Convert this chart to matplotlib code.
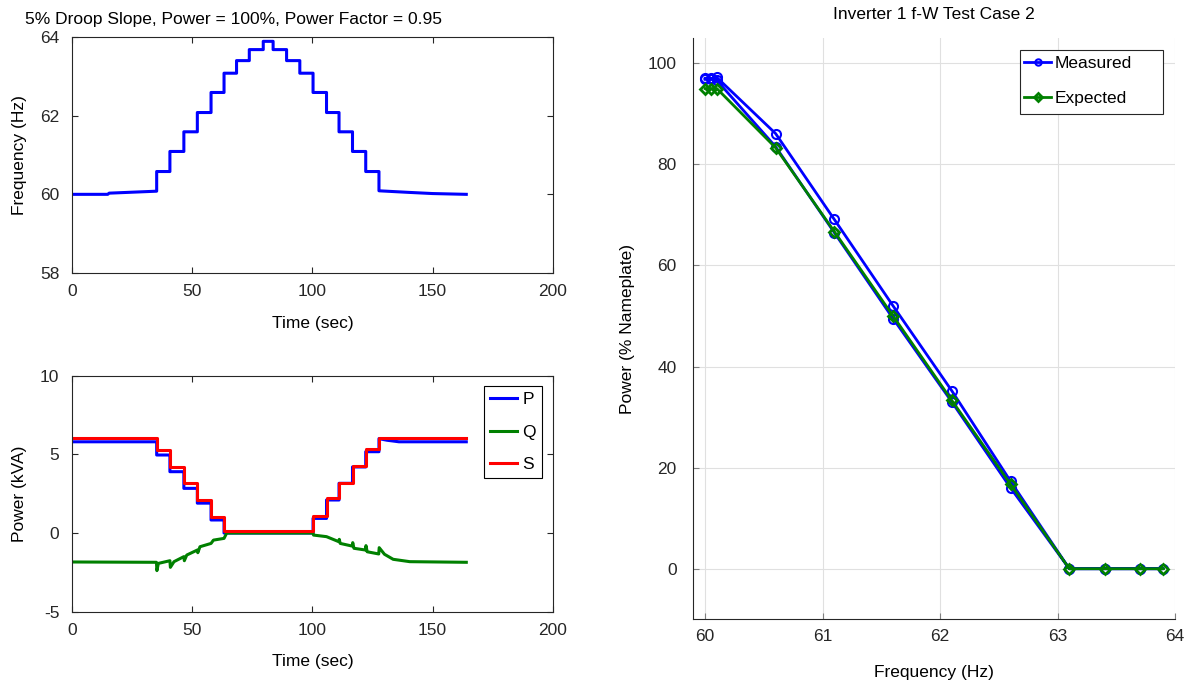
import numpy as np
import matplotlib
matplotlib.use("Agg")
import matplotlib.pyplot as plt
from matplotlib.patches import Rectangle

plt.rcParams['font.family'] = ['Liberation Sans', 'DejaVu Sans']
plt.rcParams['font.size'] = 12.5
plt.rcParams['axes.unicode_minus'] = False

# --- frequency test profile (vertices) ---
freq_t = [0, 15, 15.5, 35.3, 35.3, 40.8, 40.8, 46.6, 46.6, 52.2, 52.2, 57.9, 57.9,
          63.3, 63.3, 68.5, 68.5, 73.8, 73.8, 79.6, 79.6, 83.7, 83.7, 89.3, 89.3,
          94.8, 94.8, 100.3, 100.3, 105.9, 105.9, 111.1, 111.1, 116.7, 116.7,
          122.2, 122.2, 127.7, 127.7, 140, 150, 164]
freq_hz = [60.0, 60.0, 60.03, 60.08, 60.58, 60.58, 61.09, 61.09, 61.59, 61.59, 62.08,
           62.08, 62.59, 62.59, 63.08, 63.08, 63.40, 63.40, 63.68, 63.68, 63.89, 63.89,
           63.68, 63.68, 63.40, 63.40, 63.08, 63.08, 62.59, 62.59, 62.08, 62.08, 61.59,
           61.59, 61.09, 61.09, 60.58, 60.58, 60.09, 60.05, 60.02, 60.0]

# --- power: step times and levels (kVA) ---
pw_t = [0, 35.3, 35.3, 40.8, 40.8, 46.6, 46.6, 52.2, 52.2, 57.9, 57.9, 63.3, 63.3,
        100.3, 100.3, 105.9, 105.9, 111.1, 111.1, 116.7, 116.7, 122.2, 122.2,
        127.7, 127.7, 131, 136, 164]
p_kw = [5.8, 5.8, 4.96, 4.96, 3.9, 3.9, 2.84, 2.84, 1.9, 1.9, 0.83, 0.83, 0.0,
        0.0, 0.93, 0.93, 2.1, 2.1, 3.16, 3.16, 4.2, 4.2, 5.17, 5.17, 6.0, 5.9, 5.8, 5.8]
s_kva = [6.05, 6.05, 5.28, 5.28, 4.22, 4.22, 3.16, 3.16, 2.1, 2.1, 1.04, 1.04, 0.15,
         0.15, 1.08, 1.08, 2.2, 2.2, 3.2, 3.2, 4.26, 4.26, 5.34, 5.34, 6.06, 6.06, 6.06, 6.06]

q_t = [0, 35.2, 35.4, 36.0, 40.8, 41.0, 42.5, 46.6, 46.8, 47.8, 52.2, 52.4, 53.3,
       57.9, 58.9, 63.3, 64.4, 100.3, 100.5, 105.9, 111.0, 111.2, 111.6, 116.6,
       116.8, 117.3, 122.1, 122.3, 122.8, 127.6, 127.8, 130, 133.6, 140.5, 164]
q_kvar = [-1.84, -1.86, -2.39, -1.93, -1.76, -2.18, -1.82, -1.5, -1.76, -1.4, -1.08,
          -1.25, -0.87, -0.66, -0.45, -0.34, 0.0, 0.0, -0.13, -0.23, -0.55, -0.4,
          -0.66, -0.83, -0.61, -0.97, -1.08, -0.8, -1.19, -1.33, -0.93, -1.35, -1.67,
          -1.82, -1.86]

# --- f-W summary points ---
meas_f = [60.0, 60.05, 60.1, 60.6, 61.1, 61.6, 62.1, 62.6, 63.1, 63.4, 63.7, 63.9,
          63.7, 63.4, 63.1, 62.6, 62.1, 61.6, 61.1, 60.6, 60.1, 60.05, 60.0]
meas_p = [97.0, 97.0, 97.2, 86.1, 69.1, 52.0, 35.2, 17.3, 0, 0, 0, 0,
          0, 0, 0, 16.0, 33.0, 49.5, 66.5, 83.5, 96.6, 96.8, 96.8]
exp_f = [60.0, 60.05, 60.1, 60.6, 61.1, 61.6, 62.1, 62.6, 63.1, 63.4, 63.7, 63.9]
exp_p = [95.0, 95.0, 95.0, 83.3, 66.7, 50.0, 33.3, 16.7, 0, 0, 0, 0]

axcol = '#262626'
W, H = 1188, 683

fig = plt.figure(figsize=(11.88, 6.83), dpi=100)

def matlab_box(ax):
    for s in ax.spines.values():
        s.set_color(axcol)
        s.set_linewidth(0.8)
    ax.tick_params(direction='in', top=True, right=True, length=4, colors=axcol,
                   labelcolor=axcol, labelsize=12.5)
    ax.tick_params(axis='x', pad=8)
    ax.tick_params(axis='y', pad=9)

# top-left: frequency
ax1 = fig.add_axes([0.0604, 0.6003, 0.405, 0.3455])
ax1.plot(freq_t, freq_hz, color='#0000ff', lw=2.2)
ax1.set_xlim(0, 200)
ax1.set_ylim(58, 64)
ax1.set_xticks([0, 50, 100, 150, 200])
ax1.set_yticks([58, 60, 62, 64])
matlab_box(ax1)
ax1.set_xlabel('Time (sec)', labelpad=12)
ax1.set_ylabel('Frequency (Hz)', labelpad=9)

# bottom-left: power
ax2 = fig.add_axes([0.0604, 0.1044, 0.405, 0.3455])
ax2.plot(pw_t, p_kw, color='#0000ff', lw=2.2, label='P')
ax2.plot(q_t, q_kvar, color='#008000', lw=2.2, label='Q')
ax2.plot(pw_t, s_kva, color='#ff0000', lw=2.2, label='S')
ax2.set_xlim(0, 200)
ax2.set_ylim(-5, 10)
ax2.set_xticks([0, 50, 100, 150, 200])
ax2.set_yticks([-5, 0, 5, 10])
matlab_box(ax2)
ax2.set_xlabel('Time (sec)', labelpad=12)
ax2.set_ylabel('Power (kVA)', labelpad=9)
leg = ax2.legend(loc='upper right', bbox_to_anchor=(0.977, 0.957), fancybox=False,
                 edgecolor='black', framealpha=1, fontsize=12.5, handlelength=1.55,
                 handletextpad=0.3, labelspacing=1.0, borderpad=0.35,
                 borderaxespad=0)
leg.get_frame().set_linewidth(0.8)

fig.text(0.021, 0.972, '5% Droop Slope, Power = 100%, Power Factor = 0.95',
         ha='left', va='center', fontsize=12.5, color='black')

# right: f-W curve
ax3 = fig.add_axes([0.5836, 0.0933, 0.4055, 0.8511])
ax3.plot(meas_f, meas_p, color='#0000ff', lw=2, marker='o', ms=6.5, mfc='none',
         mew=1.5, label='Measured')
ax3.plot(exp_f, exp_p, color='#008000', lw=2, marker='D', ms=5.5, mfc='none',
         mew=2, label='Expected')
ax3.set_xlim(59.9, 64)
ax3.set_ylim(-10, 105)
ax3.set_xticks([60, 61, 62, 63, 64])
ax3.set_yticks([0, 20, 40, 60, 80, 100])
ax3.grid(True, color='#e0e0e0', lw=0.8)
ax3.set_axisbelow(True)
ax3.spines['top'].set_visible(False)
ax3.spines['right'].set_visible(False)
for s in ['left', 'bottom']:
    ax3.spines[s].set_color(axcol)
    ax3.spines[s].set_linewidth(0.8)
ax3.tick_params(direction='in', length=4, colors='#808080', labelcolor=axcol,
                labelsize=12.5)
ax3.tick_params(axis='x', pad=7)
ax3.tick_params(axis='y', pad=12)
ax3.set_xlabel('Frequency (Hz)', labelpad=15)
ax3.set_ylabel('Power (% Nameplate)', labelpad=9)
ax3.set_title('Inverter 1 f-W Test Case 2', fontsize=12.5, pad=14)

# MATLAB-style legend box: wide frame with the entries packed to the left
box = Rectangle((1020 / W, 1 - 114 / H), 143 / W, 64 / H, transform=fig.transFigure,
                facecolor='white', edgecolor=axcol, lw=0.8, zorder=4.9, clip_on=False)
ax3.add_patch(box)
leg3 = ax3.legend(loc='upper left', bbox_to_anchor=(1021 / W, 1 - 52 / H),
                  bbox_transform=fig.transFigure, frameon=False, fontsize=12.5,
                  handlelength=1.55, handletextpad=0.2, labelspacing=1.15,
                  borderpad=0.2, borderaxespad=0, markerscale=0.7)

fig.savefig('out.png', dpi=100, facecolor='white')
